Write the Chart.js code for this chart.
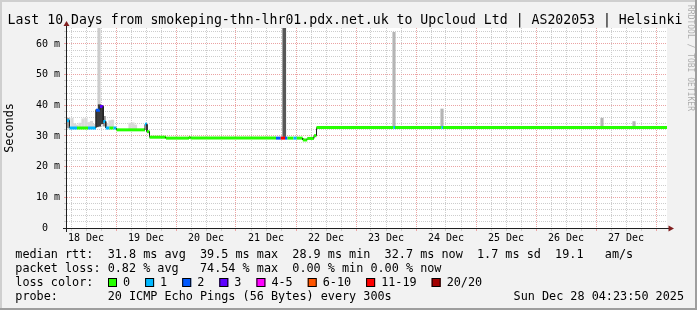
<!DOCTYPE html>
<html lang="en">
<head>
<meta charset="utf-8"/>
<title>Last 10 Days - Upcloud Helsinki</title>
<script src="https://cdn.jsdelivr.net/npm/chart.js"></script>
<style>
    body { margin: 0; background: #f2f2f2; }
    canvas { display: block; }
</style>
</head>
<body>
<canvas id="myChart" width="697" height="310"></canvas>
<script>
    var MONO = "'DejaVu Sans Mono', monospace";

    // time axis in hours counted from 18 Dec 00:00
    var startHour = 4.4;      // 18 Dec 04:24
    var endHour = 244.4;      // 28 Dec 04:24
    var dayLabels = ['18 Dec', '19 Dec', '20 Dec', '21 Dec', '22 Dec',
                     '23 Dec', '24 Dec', '25 Dec', '26 Dec', '27 Dec'];

    // median rtt, one entry per run (a run lasts until the next start)
    var medianStart = [4.4, 5.4, 8.4, 12.8, 16.0, 17.6, 18.9, 19.9, 21.4, 23.0,
                       24.2, 35.6, 36.4, 37.4, 44.0, 53.2, 53.8, 88.0, 89.9, 91.6,
                       92.6, 95.0, 96.3, 98.7, 100.5, 103.2, 104.2, 135.0, 135.6, 154.2,
                       154.8];
    var medianMs = [35.0, 32.6, 32.6, 32.6, 38.4, 39.6, 34.7, 32.6, 32.6, 32.6,
                    32.0, 33.8, 31.4, 29.6, 29.3, 29.5, 29.3, 29.3, 29.3, 29.3,
                    29.3, 29.3, 29.3, 28.7, 29.2, 30.1, 32.8, 32.8, 32.8, 32.8,
                    32.8];
    var medianLost = [1, 1, 0, 1, 2, 3, 1, 1, 0, 1,
                      0, 1, 0, 0, 0, 0, 0, 2, 15, 2,
                      0, 1, 0, 0, 0, 0, 0, 1, 0, 1,
                      0];

    // smoke: spread of the 20 pings
    var smokeHour = [6.4, 7.4, 8.4, 9.6, 10.8, 12.0, 13.2, 14.2, 15.2, 20.4, 21.6, 22.6, 29.6, 30.8, 31.8];
    var smokeLow = [32.6, 32.6, 32.6, 32.6, 32.6, 32.6, 32.6, 32.6, 32.6, 32.6, 32.6, 32.6, 32.0, 32.0, 32.0];
    var smokeHigh = [35.8, 34.0, 33.6, 34.2, 35.6, 35.8, 34.4, 34.8, 33.8, 34.0, 35.0, 35.2, 34.2, 34.3, 33.6];

    var midSmokeHour = [4.8, 19.3];
    var midSmokeLow = [32.6, 33.2];
    var midSmokeHigh = [35.8, 36.4];

    var darkSmokeHour = [16.4, 17.4, 18.4];
    var darkSmokeLow = [33.0, 33.2, 34.0];
    var darkSmokeHigh = [38.6, 40.2, 39.8];

    var paleSpikeHour = [17.2];
    var paleSpikeLow = [33.0];
    var paleSpikeHigh = [65.2];

    var spikeHour = [135.2, 154.4, 218.4, 231.2];
    var spikeLow = [32.8, 32.8, 32.8, 32.8];
    var spikeHigh = [63.8, 38.8, 35.8, 34.7];

    var darkSpikeHour = [91.3];
    var darkSpikeLow = [29.8];
    var darkSpikeHigh = [65.2];

    var lossLabels = ['0', '1', '2', '3', '4-5', '6-10', '11-19', '20/20'];
    var lossColors = ['#26ff00', '#00b8ff', '#0059ff', '#5e00ff', '#ff00ff', '#ff5500', '#ff0000', '#a10000'];

    var titleText = 'Last 10 Days from smokeping-thn-lhr01.pdx.net.uk to Upcloud Ltd | AS202053 | Helsinki';
    var legendLines = [
        'median rtt:  31.8 ms avg  39.5 ms max  28.9 ms min  32.7 ms now  1.7 ms sd  19.1   am/s',
        'packet loss: 0.82 % avg   74.54 % max  0.00 % min 0.00 % now',
        'loss color:',
        'probe:       20 ICMP Echo Pings (56 Bytes) every 300s'
    ];
    var dateText = 'Sun Dec 28 04:23:50 2025';

    var GRID = '#cdcdcd';
    var MGRID = '#eba3a3';

    function lossIndex(n) {
        if (n <= 3) return n;
        if (n <= 5) return 4;
        if (n <= 10) return 5;
        if (n < 20) return 6;
        return 7;
    }

    function bars(hours, low, high) {
        return hours.map(function (h, i) { return {x: h, y: [low[i], high[i]]}; });
    }

    var medianPoints = [];
    for (var i = 0; i < medianStart.length; i++) {
        var runEnd = i + 1 < medianStart.length ? medianStart[i + 1] : endHour;
        medianPoints.push({x: medianStart[i], y: medianMs[i]});
        medianPoints.push({x: runEnd, y: medianMs[i]});
    }

    var xTicks = [];
    for (var h = 6; h <= 240; h += 6) xTicks.push(h);
    var yTicks = [];
    for (var v = 0; v <= 64; v += 2) yTicks.push(v);

    var decor = {
        id: 'decor',
        beforeDraw: function (chart) {
            var c = chart.ctx, a = chart.chartArea, w = chart.width, ht = chart.height;
            c.save();
            c.fillStyle = '#f2f2f2';
            c.fillRect(0, 0, w, ht);
            c.fillStyle = '#cfcfcf';
            c.fillRect(0, 0, w, 2);
            c.fillRect(0, 0, 2, ht);
            c.fillStyle = '#9e9e9e';
            c.fillRect(0, ht - 2, w, 2);
            c.fillRect(w - 2, 0, 2, ht);
            c.fillStyle = '#ffffff';
            c.fillRect(a.left, a.top, a.right - a.left, a.bottom - a.top);
            c.restore();
        },
        afterDraw: function (chart) {
            var c = chart.ctx, a = chart.chartArea;
            c.save();
            // axes and arrows
            c.strokeStyle = '#1f1f1f';
            c.lineWidth = 1;
            c.beginPath();
            c.moveTo(a.left - 4, a.bottom + 0.5);
            c.lineTo(a.right + 2, a.bottom + 0.5);
            c.moveTo(a.left - 0.5, a.bottom + 4);
            c.lineTo(a.left - 0.5, a.top - 3);
            c.stroke();
            c.fillStyle = '#801f1f';
            c.beginPath();
            c.moveTo(a.left - 0.5, a.top - 7);
            c.lineTo(a.left - 3.5, a.top - 2);
            c.lineTo(a.left + 2.5, a.top - 2);
            c.closePath();
            c.fill();
            c.beginPath();
            c.moveTo(a.right + 7, a.bottom + 0.5);
            c.lineTo(a.right + 1.5, a.bottom - 2.5);
            c.lineTo(a.right + 1.5, a.bottom + 3.5);
            c.closePath();
            c.fill();

            // title
            c.fillStyle = '#000';
            c.textBaseline = 'alphabetic';
            c.textAlign = 'left';
            c.font = '13.2px ' + MONO;
            c.fillText(titleText, 7.5, 24);

            // legend block
            c.font = '11.8px ' + MONO;
            var x0 = 15.3, base = 258;
            legendLines.forEach(function (line, k) {
                c.fillText(line, x0, base + k * 14);
            });
            c.textAlign = 'right';
            c.fillText(dateText, 684, base + 42);
            c.textAlign = 'left';

            var sx = 108;
            lossLabels.forEach(function (lab, k) {
                c.fillStyle = lossColors[k];
                c.fillRect(sx, 278, 9, 9);
                c.strokeStyle = '#000';
                c.strokeRect(sx + 0.5, 278.5, 8, 8);
                c.fillStyle = '#000';
                c.fillText(lab, sx + 15, base + 28);
                sx += 30 + c.measureText(lab).width;
            });

            // watermark
            c.translate(690, 5);
            c.rotate(Math.PI / 2);
            c.font = '8px ' + MONO;
            c.fillStyle = 'rgba(0,0,0,0.3)';
            c.textBaseline = 'middle';
            c.fillText('RRDTOOL / TOBI OETIKER', 0, 0);
            c.restore();
        }
    };

    function smokeSet(data, color, order, thickness) {
        return {
            type: 'bar',
            data: data,
            backgroundColor: color,
            borderWidth: 0,
            barThickness: thickness,
            grouped: false,
            order: order
        };
    }

    var ctx = document.getElementById('myChart');
    var mychart = new Chart(ctx, {
        type: 'line',
        data: {
            datasets: [
                {
                    label: 'median rtt',
                    data: medianPoints,
                    borderWidth: 3,
                    borderColor: '#26ff00',
                    borderCapStyle: 'butt',
                    pointRadius: 0,
                    pointHitRadius: 0,
                    tension: 0,
                    fill: false,
                    order: 0,
                    segment: {
                        borderColor: function (s) {
                            if (s.p0DataIndex % 2 === 1) return '#202020';
                            return lossColors[lossIndex(medianLost[s.p0DataIndex / 2])];
                        },
                        borderWidth: function (s) {
                            return s.p0DataIndex % 2 === 1 ? 1 : 3;
                        }
                    }
                },
                smokeSet(bars(darkSpikeHour, darkSpikeLow, darkSpikeHigh), '#575757', 1, 3),
                smokeSet(bars(darkSmokeHour, darkSmokeLow, darkSmokeHigh), '#3c3c3c', 2, 2.5),
                smokeSet(bars(midSmokeHour, midSmokeLow, midSmokeHigh), '#9a9a9a', 3, 2.5),
                smokeSet(bars(paleSpikeHour, paleSpikeLow, paleSpikeHigh), '#cdcdcd', 4, 2.5),
                smokeSet(bars(spikeHour, spikeLow, spikeHigh), '#b5b5b5', 5, 2.5),
                smokeSet(bars(smokeHour, smokeLow, smokeHigh), '#d9d9d9', 6, 2.5)
            ]
        },
        options: {
            responsive: false,
            animation: false,
            devicePixelRatio: 1,
            layout: { padding: { left: 0, top: 28, right: 30, bottom: 0 } },
            plugins: {
                legend: { display: false },
                tooltip: { enabled: false },
                title: { display: false }
            },
            scales: {
                x: {
                    type: 'linear',
                    min: startHour,
                    max: endHour,
                    offset: false,
                    afterBuildTicks: function (axis) {
                        axis.ticks = xTicks.map(function (t) { return {value: t}; });
                    },
                    afterFit: function (axis) { axis.height = 82; },
                    ticks: {
                        autoSkip: false,
                        maxRotation: 0,
                        minRotation: 0,
                        padding: 1,
                        color: '#000',
                        font: { family: MONO, size: 10 },
                        callback: function (val) {
                            if ((val - 12) % 24 === 0) return dayLabels[(val - 12) / 24];
                            return '';
                        }
                    },
                    grid: {
                        offset: false,
                        tickLength: 3,
                        color: function (g) { return g.tick && g.tick.value % 24 === 0 ? MGRID : GRID; },
                        tickColor: function (g) { return g.tick && g.tick.value % 24 === 0 ? MGRID : GRID; }
                    },
                    border: { display: false, dash: [1, 1] }
                },
                y: {
                    type: 'linear',
                    min: 0,
                    max: 65.2,
                    afterBuildTicks: function (axis) {
                        axis.ticks = yTicks.map(function (t) { return {value: t}; });
                    },
                    afterFit: function (axis) { axis.width = 67; },
                    ticks: {
                        autoSkip: false,
                        padding: 4,
                        color: '#000',
                        font: { family: MONO, size: 10 },
                        callback: function (val) {
                            if (val % 10 !== 0) return '';
                            return val === 0 ? '0  ' : val + ' m';
                        }
                    },
                    grid: {
                        tickLength: 3,
                        color: function (g) { return g.tick && g.tick.value % 10 === 0 ? MGRID : GRID; },
                        tickColor: function (g) { return g.tick && g.tick.value % 10 === 0 ? MGRID : GRID; }
                    },
                    border: { display: false, dash: [1, 1] },
                    title: {
                        display: true,
                        text: 'Seconds',
                        color: '#000',
                        font: { family: MONO, size: 11.8 },
                        padding: { top: 3, bottom: 0 }
                    }
                }
            }
        },
        plugins: [decor]
    });
</script>
</body>
</html>
